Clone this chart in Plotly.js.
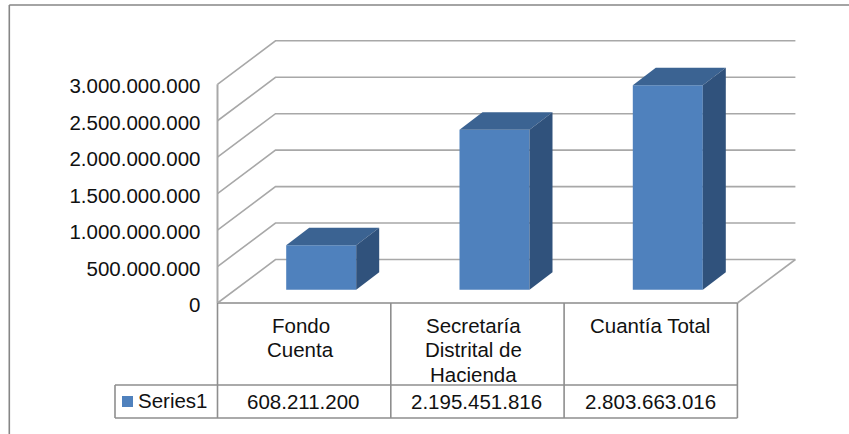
<!DOCTYPE html>
<html><head><meta charset="utf-8">
<script src="https://cdn.plot.ly/plotly-3.0.1.min.js"></script>
<style>html,body{margin:0;padding:0;background:#fff}#c{width:849px;height:434px}</style>
</head><body><div id="c"></div>
<script>
const categories = [["Fondo","Cuenta"],["Secretaría","Distrital de","Hacienda"],["Cuantía Total"]];
const seriesName = "Series1";
const seriesValues = [608211200, 2195451816, 2803663016];
const yTicks = [0, 500000000, 1000000000, 1500000000, 2000000000, 2500000000, 3000000000];

const W = 849, H = 434;
const X0 = 217.5, CELL = 173.3, Y0 = 303, PXY = 36.45 / 5e8;   // scale
const val = px => (Y0 - px) / PXY;            // page-pixel y -> value
const unit = px => px / CELL;                 // px width -> x units
const dyv = px => px / PXY;                   // px height -> value units
const py = px => 1 - px / H, pxr = px => px / W;

const wallDX = unit(58), wallDY = dyv(43.5), xEnd = 3;
const barW = unit(70), barOff = unit(68.7), barBase = dyv(13.3), depthX = unit(23), depthY = dyv(17.5);
const FRONT = "#4F81BD", TOP = "#3B6392", SIDE = "#30527C";
const GRID = "#a8a8a8", TABLE = "#8e8e8e", FRAME = "#868686";

const fmt = n => String(n).replace(/\B(?=(\d{3})+(?!\d))/g, ".");

const shapes = [];
const line = (x0,y0,x1,y1,xref,yref,color,width) => shapes.push({type:"line",layer:"below",xref,yref,x0,y0,x1,y1,line:{color,width}});
// frame (open at right and bottom)
line(pxr(9.3),py(5),1,py(5),"paper","paper",FRAME,1.6);
line(pxr(9.3),py(5),pxr(9.3),0,"paper","paper",FRAME,1.6);
// back wall + side wall gridlines
yTicks.forEach(t => {
  shapes.push({type:"path",layer:"below",xref:"x",yref:"y",
    path:`M 0 ${t} L ${wallDX} ${t+wallDY} L ${xEnd+wallDX} ${t+wallDY}`,
    line:{color:GRID,width:1.6}});
});
line(0,0,0,yTicks[yTicks.length-1],"x","y",GRID,2);
line(0,0,xEnd,0,"x","y",GRID,2);
line(xEnd,0,xEnd+wallDX,wallDY,"x","y",GRID,1.6);
// data table
[0,1,2,3].forEach(i => line(i,val(303),i,val(418),"x","y",TABLE,1.6));
line(unit(115-X0),val(385),xEnd,val(385),"x","y",TABLE,1.6);
line(unit(115-X0),val(418),xEnd,val(418),"x","y",TABLE,1.6);
line(unit(115-X0),val(385),unit(115-X0),val(418),"x","y",TABLE,1.6);
// legend key
shapes.push({type:"rect",layer:"below",xref:"paper",yref:"paper",x0:pxr(122),x1:pxr(133),y0:py(396),y1:py(407),fillcolor:FRONT,line:{width:0}});

const FONT = {family:"Liberation Sans, Arial, sans-serif", size:20.5, color:"#111"};
const annotations = [];
const note = (text,xpx,ypx) => annotations.push({text,xref:"paper",yref:"paper",x:pxr(xpx),y:py(ypx),xanchor:"center",yanchor:"middle",showarrow:false,font:FONT,borderpad:0});
const catCx = [300.5,473.5,650];
categories.forEach((lines,i) => lines.forEach((s,j) => note(s,catCx[i],325+j*24.5)));
const valCx = [303,476,650];
seriesValues.forEach((v,i) => note(fmt(v),valCx[i],401));
note(seriesName,173,400);

const xs = seriesValues.map((_,i) => i + barOff/1 + barW/2 - 0.0);
const traces = [{
  type:"bar", x:xs, y:seriesValues, base:barBase, width:barW, name:seriesName,
  marker:{color:FRONT,line:{width:0}}, hoverinfo:"skip", showlegend:false
}];
seriesValues.forEach((v,i) => {
  const a = xs[i]-barW/2, b = xs[i]+barW/2, low = barBase, high = barBase+v;
  traces.push({type:"scatter",mode:"lines",fill:"toself",fillcolor:TOP,line:{width:0},hoverinfo:"skip",showlegend:false,
    x:[a,b,b+depthX,a+depthX,a], y:[high,high,high+depthY,high+depthY,high]});
  traces.push({type:"scatter",mode:"lines",fill:"toself",fillcolor:SIDE,line:{width:0},hoverinfo:"skip",showlegend:false,
    x:[b,b+depthX,b+depthX,b,b], y:[low,low+depthY,high+depthY,high,low]});
});

const layout = {
  width:W, height:H, margin:{l:0,r:0,t:0,b:0,pad:0}, autosize:false,
  paper_bgcolor:"#fff", plot_bgcolor:"#fff", showlegend:false, separators:",.",
  xaxis:{range:[-X0/CELL,(W-X0)/CELL],visible:false,fixedrange:true},
  yaxis:{range:[val(H),val(0)],anchor:"free",position:X0/W,tickmode:"array",tickvals:yTicks,
    tickformat:",d",showgrid:false,zeroline:false,showline:false,ticks:"",
    tickfont:FONT,ticklabelstandoff:17,ticklabelshift:2,fixedrange:true,automargin:false},
  shapes, annotations
};
Plotly.newPlot("c",traces,layout,{displayModeBar:false,staticPlot:true});
</script></body></html>
